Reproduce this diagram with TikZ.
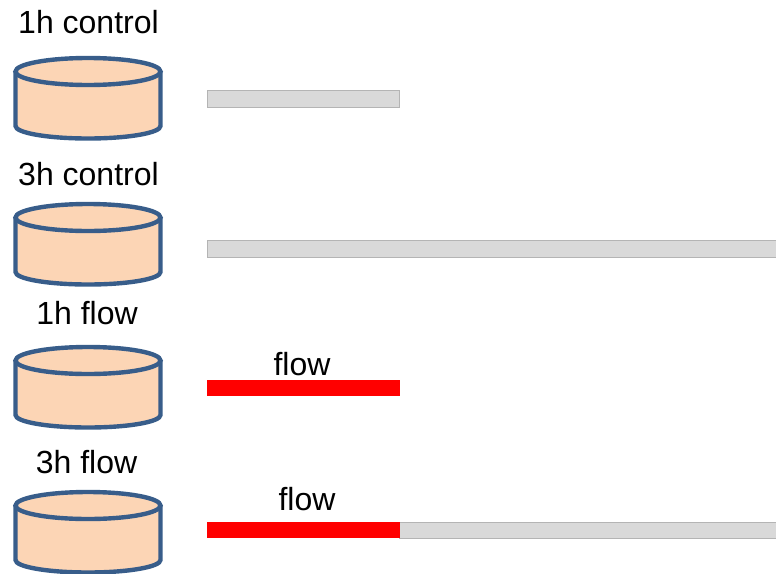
\documentclass[tikz,border=0pt]{standalone}
\usepackage{fontspec}
\setmainfont{Liberation Sans}
\definecolor{dishfill}{RGB}{252,213,181}
\definecolor{dishline}{RGB}{56,93,138}
\definecolor{barfill}{RGB}{217,217,217}
\definecolor{barline}{RGB}{180,180,180}
\tikzset{
	dish/.style={draw=dishline,line width=4.4pt,fill=dishfill},
	bar/.style={draw=barline,line width=0.7pt,fill=barfill},
	flowbar/.style={fill=red},
	caption/.style={font=\fontsize{32}{32}\selectfont,text=black,inner sep=0pt}
}
\begin{document}
\begin{tikzpicture}[x=1pt,y=-1pt]
	\useasboundingbox (0,0) rectangle (776,573);
	%dishes
	\foreach \s in {0,146,289,434}{
	\draw[dish] (15.5,71.5+\s) -- (15.5,126+\s) arc[start angle=180,end angle=360,x radius=72.5,y radius=-12.5] -- (160.5,71.5+\s);
	\draw[dish] (88,71.5+\s) ellipse[x radius=72.5,y radius=13.5];
	}
	%dish labels
	\node[caption] (label 1h control) at (88.5,22){1h control};
	\node[caption] (label 3h control) at (88.5,174){3h control};
	\node[caption] (label 1h flow) at (87,313){1h flow};
	\node[caption] (label 3h flow) at (86.5,462){3h flow};
	%bars
	\draw[bar] (207.5,90.5) rectangle (399.5,107);
	\draw[bar] (207.5,240.5) rectangle (776,257);
	\fill[flowbar] (207,380) rectangle (400,396);
	\draw[bar] (399.5,522.5) rectangle (776,538);
	\fill[flowbar] (207,522) rectangle (400,538);
	%bar labels
	\node[caption] (flow label a) at (302,364){flow};
	\node[caption] (flow label b) at (307,499.5){flow};
\end{tikzpicture}
\end{document}
